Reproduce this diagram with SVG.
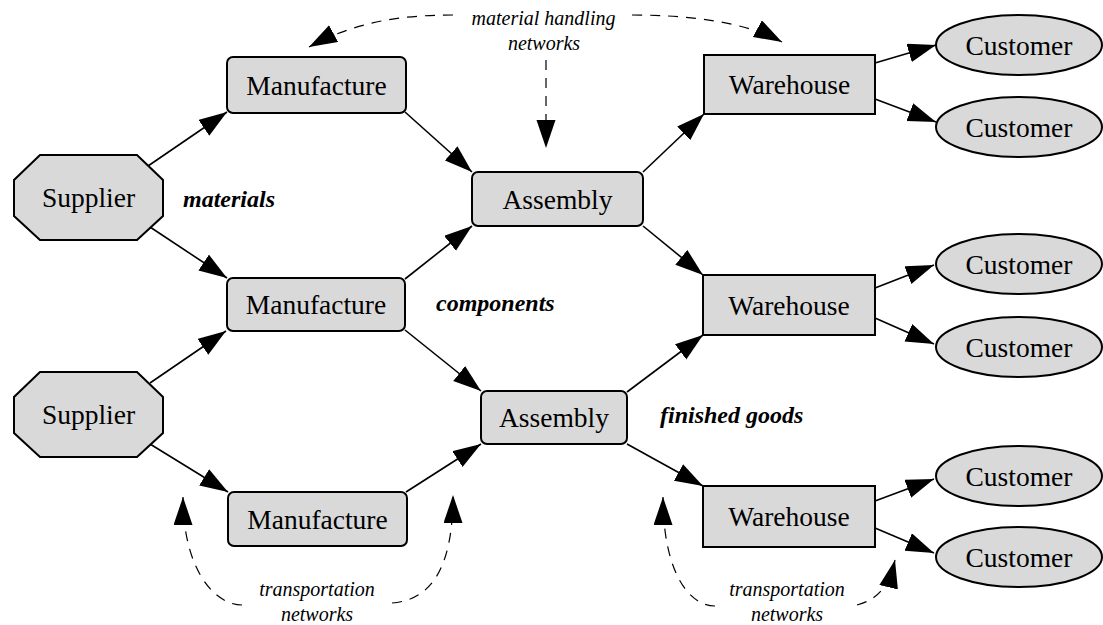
<svg xmlns="http://www.w3.org/2000/svg" width="1103" height="625" viewBox="0 0 1103 625">
<style>
.n{fill:#d9d9d9;stroke:#000;stroke-width:2}
.t{font-family:"Liberation Serif","Times New Roman",serif;font-size:27.5px;fill:#000;text-anchor:middle}
.lb{font-family:"Liberation Serif","Times New Roman",serif;font-size:24px;font-weight:bold;font-style:italic;fill:#000}
.li{font-family:"Liberation Serif","Times New Roman",serif;font-size:20px;font-style:italic;fill:#000;text-anchor:middle}
.e{fill:none;stroke:#000;stroke-width:1.6;marker-end:url(#ah)}
.d{fill:none;stroke:#000;stroke-width:1.2;stroke-dasharray:10,8;marker-end:url(#ah)}
</style>
<defs>
<marker id="ah" markerUnits="userSpaceOnUse" markerWidth="30" markerHeight="20" refX="28" refY="9.5" orient="auto">
<path d="M0,0 L28,9.5 L0,19 z" fill="#000"/>
</marker>
</defs>
<g id="connectors">
<path class="e" d="M148,166 L227,112"/>
<path class="e" d="M150,227 L227,278"/>
<path class="e" d="M150,383 L226,331"/>
<path class="e" d="M150,444 L228,492"/>
<path class="e" d="M405,112 L472,172"/>
<path class="e" d="M405,279 L472,226"/>
<path class="e" d="M405,330 L481,391"/>
<path class="e" d="M406,492 L481,444"/>
<path class="e" d="M643,172 L704,114"/>
<path class="e" d="M643,226 L703,275"/>
<path class="e" d="M627,392 L703,335"/>
<path class="e" d="M627,444 L703,486"/>
<path class="e" d="M875,63 L936,45"/>
<path class="e" d="M875,99 L936,122"/>
<path class="e" d="M875,288 L934,265"/>
<path class="e" d="M875,318 L934,344"/>
<path class="e" d="M875,501 L934,479"/>
<path class="e" d="M875,528 L934,553"/>
<path class="d" d="M453,15 C400,15 355,22 309,47"/>
<path class="d" d="M632,15 C690,15 745,22 782,42"/>
<path class="d" d="M546,60 L546,148"/>
<path class="d" d="M242,605 C215,605 183,570 183,497"/>
<path class="d" d="M392,603 C430,600 453,570 453,495"/>
<path class="d" d="M715,606 C688,606 663,570 663,497"/>
<path class="d" d="M857,605 C875,600 888,590 895,560"/>
</g>
<g id="supplier1"><polygon class="n" points="40,155 137,155 163,180 163,216 137,240 40,240 14,216 14,180"/><text class="t" x="88.5" y="207">Supplier</text></g>
<g id="supplier2"><polygon class="n" points="40,372 137,372 163,397 163,433 137,457 40,457 14,433 14,397"/><text class="t" x="88.5" y="424">Supplier</text></g>
<g id="manufacture1"><rect class="n" x="227" y="57" width="179" height="56" rx="6"/><text class="t" x="316.5" y="94.5">Manufacture</text></g>
<g id="manufacture2"><rect class="n" x="227" y="278" width="178" height="53" rx="6"/><text class="t" x="316" y="314">Manufacture</text></g>
<g id="manufacture3"><rect class="n" x="228" y="492" width="179" height="54" rx="6"/><text class="t" x="317.5" y="528.5">Manufacture</text></g>
<g id="assembly1"><rect class="n" x="472" y="172" width="171" height="54" rx="6"/><text class="t" x="557.5" y="208.5">Assembly</text></g>
<g id="assembly2"><rect class="n" x="481" y="391" width="146" height="53" rx="6"/><text class="t" x="554" y="426.5">Assembly</text></g>
<g id="warehouse1"><rect class="n" x="704" y="55" width="171" height="59"/><text class="t" x="789.5" y="94">Warehouse</text></g>
<g id="warehouse2"><rect class="n" x="703" y="275" width="172" height="60"/><text class="t" x="789" y="314.5">Warehouse</text></g>
<g id="warehouse3"><rect class="n" x="703" y="486" width="172" height="61"/><text class="t" x="789" y="525.5">Warehouse</text></g>
<g id="customer1"><ellipse class="n" cx="1019" cy="45" rx="83" ry="30"/><text class="t" x="1019" y="54.5">Customer</text></g>
<g id="customer2"><ellipse class="n" cx="1019" cy="127" rx="83" ry="30"/><text class="t" x="1019" y="136.5">Customer</text></g>
<g id="customer3"><ellipse class="n" cx="1019" cy="264" rx="83" ry="30"/><text class="t" x="1019" y="273.5">Customer</text></g>
<g id="customer4"><ellipse class="n" cx="1019" cy="347" rx="83" ry="30"/><text class="t" x="1019" y="356.5">Customer</text></g>
<g id="customer5"><ellipse class="n" cx="1019" cy="476" rx="83" ry="30"/><text class="t" x="1019" y="485.5">Customer</text></g>
<g id="customer6"><ellipse class="n" cx="1019" cy="557" rx="83" ry="30"/><text class="t" x="1019" y="566.5">Customer</text></g>
<g id="labels">
<text class="lb" x="183" y="207">materials</text>
<text class="lb" x="436" y="311">components</text>
<text class="lb" x="660" y="423">finished goods</text>
<text class="li" x="543.5" y="25">material handling</text>
<text class="li" x="544" y="50">networks</text>
<text class="li" x="317" y="596">transportation</text>
<text class="li" x="317" y="621">networks</text>
<text class="li" x="787" y="596">transportation</text>
<text class="li" x="787" y="621">networks</text>
</g>
</svg>
